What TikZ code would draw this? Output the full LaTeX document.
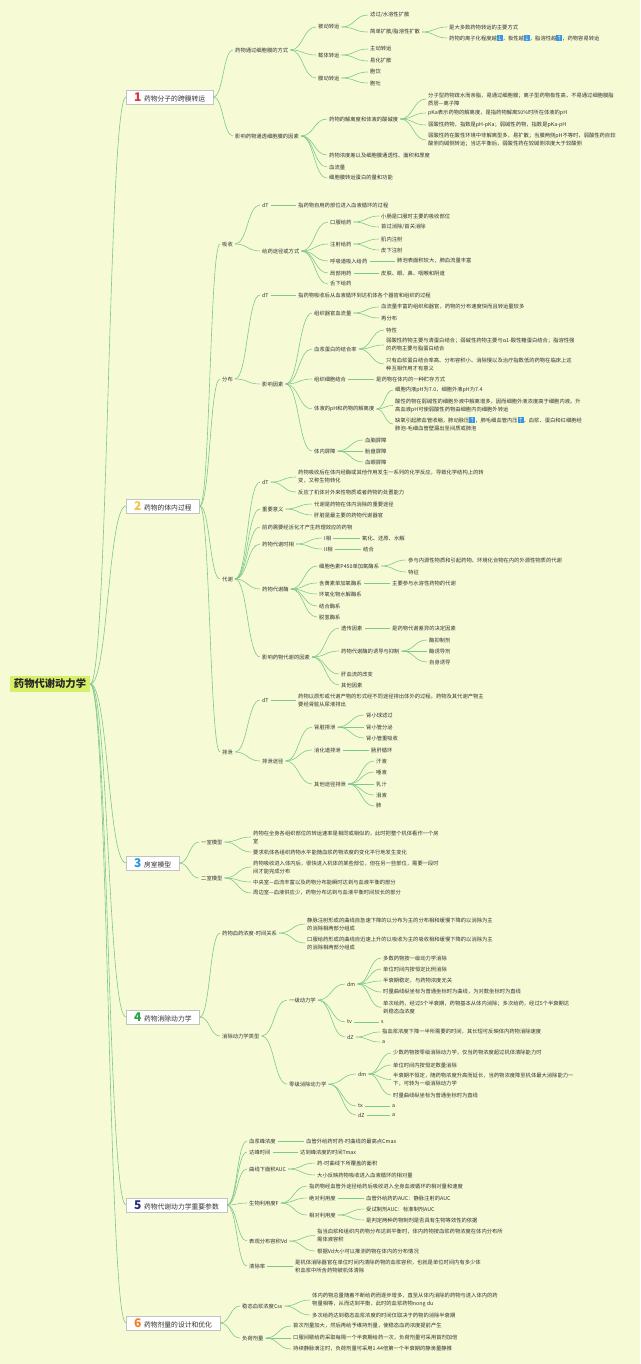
\documentclass[tikz,border=0pt]{standalone}
\usepackage{fontspec}
\setmainfont{Noto Sans CJK SC}
\usetikzlibrary{calc}
\definecolor{bg}{RGB}{246,251,214}
\definecolor{lnc}{RGB}{125,200,140}
\definecolor{txt}{RGB}{50,50,50}
\definecolor{boxb}{RGB}{195,195,195}
\definecolor{rootc}{RGB}{215,240,105}
\definecolor{icb}{RGB}{60,150,230}
\definecolor{n1}{RGB}{225,50,60}
\definecolor{n2}{RGB}{245,195,60}
\definecolor{n3}{RGB}{40,150,225}
\definecolor{n4}{RGB}{40,165,70}
\definecolor{n5}{RGB}{40,45,120}
\definecolor{n6}{RGB}{240,125,45}
\newcommand\icup{{\setlength\fboxsep{0.3pt}\colorbox{icb}{\textcolor{white}{↑}}}}
\newcommand\icdn{{\setlength\fboxsep{0.3pt}\colorbox{icb}{\textcolor{white}{↓}}}}
\newcommand\lk[2]{\draw[cn] let \p1=(#1.east), \p2=(#2.west) in (\p1) .. controls ({(\x1+\x2)/2},\y1) and ({(\x1+\x2)/2},\y2) .. (\p2);}
\newcommand\bnum[2]{{\fontsize{12}{12}\selectfont\bfseries\color{#1}#2}\hspace{2.5pt}}
\begin{document}
\begin{tikzpicture}[x=1pt,y=-1pt,
  t/.style={anchor=west, xshift=-2pt, inner xsep=2pt, inner ysep=1pt, font=\fontsize{5.3}{8}\selectfont, text=txt, align=left},
  mbox/.style={draw=boxb, fill=white, line width=0.4pt, anchor=west, inner xsep=8pt, inner ysep=1.5pt, minimum height=14pt, font=\fontsize{6.8}{8}\selectfont, text=txt},
  cn/.style={draw=lnc, line width=0.6pt}]
\useasboundingbox (0,0) rectangle (640,1364);
\fill[bg] (0,0) rectangle (640,1364);

% root and main branches
\node[fill=rootc, inner xsep=4pt, inner ysep=3pt, font=\fontsize{10.3}{12}\selectfont\bfseries, text=black!85] (R) at (50,684) {药物代谢动力学};
\node[mbox] (B1) at (126,97) {\bnum{n1}{1}药物分子的跨膜转运};
\node[mbox] (B2) at (126,506) {\bnum{n2}{2}药物的体内过程};
\node[mbox] (B3) at (126,863) {\bnum{n3}{3}房室模型};
\node[mbox] (B4) at (126,1017) {\bnum{n4}{4}药物消除动力学};
\node[mbox] (B5) at (126,1205) {\bnum{n5}{5}药物代谢动力学重要参数};
\node[mbox] (B6) at (126,1323) {\bnum{n6}{6}药物剂量的设计和优化};
\foreach \b in {B1,B2,B3,B4,B5,B6}{\lk{R}{\b}}

% ===== Section 1
\node[t] (a1) at (235,50) {药物通过细胞膜的方式};
\node[t] (a11) at (318,27) {被动转运};
\node[t] (a111) at (370,15) {滤过/水溶性扩散};
\node[t] (a112) at (370,32) {简单扩散/脂溶性扩散};
\node[t] (a1121) at (449,27) {是大多数药物转运的主要方式};
\node[t] (a1122) at (449,38) {药物的离子化程度越\icdn，极性越\icdn，脂溶性越\icup，药物容易转运};
\node[t] (a12) at (318,55) {载体转运};
\node[t] (a121) at (370,49) {主动转运};
\node[t] (a122) at (370,61) {易化扩散};
\node[t] (a13) at (318,78) {膜动转运};
\node[t] (a131) at (370,72) {胞饮};
\node[t] (a132) at (370,83) {胞吐};
\node[t] (a2) at (235,136) {影响药物通透细胞膜的因素};
\node[t] (a21) at (329,119) {药物的解离度和体液的酸碱度};
\node[t] (a211) at (428,99) {分子型药物疏水而亲脂，易通过细胞膜；离子型药物极性高，不易通过细胞膜脂\\质层—离子障};
\node[t] (a212) at (428,113) {pKa表示药物的解离度，是指药物解离50\%时所在体液的pH};
\node[t] (a213) at (428,125) {弱酸性药物，指数是pH-pKa；弱碱性药物，指数是pKa-pH};
\node[t] (a214) at (428,140) {弱酸性药在酸性环境中非解离型多，易扩散；当膜两侧pH不等时，弱酸性药自较\\酸侧向碱侧转运；当达平衡后，弱酸性药在较碱侧浓度大于较酸侧};
\node[t] (a22) at (329,155) {药物浓度差以及细胞膜通透性、面积和厚度};
\node[t] (a23) at (329,167) {血流量};
\node[t] (a24) at (329,178) {细胞膜转运蛋白的量和功能};
\lk{B1}{a1}\lk{B1}{a2}
\lk{a1}{a11}\lk{a1}{a12}\lk{a1}{a13}
\lk{a11}{a111}\lk{a11}{a112}\lk{a112}{a1121}\lk{a112}{a1122}
\lk{a12}{a121}\lk{a12}{a122}\lk{a13}{a131}\lk{a13}{a132}
\lk{a2}{a21}\lk{a2}{a22}\lk{a2}{a23}\lk{a2}{a24}
\lk{a21}{a211}\lk{a21}{a212}\lk{a21}{a213}\lk{a21}{a214}

% ===== Section 2
\node[t] (b1) at (222,244) {吸收};
\node[t] (b11) at (262,205) {dT};
\node[t] (b111) at (298,205) {指药物自用药部位进入血液循环的过程};
\node[t] (b12) at (262,251) {给药途径或方式};
\node[t] (b121) at (330,222) {口服给药};
\node[t] (b1211) at (381,216) {小肠是口服时主要的吸收部位};
\node[t] (b1212) at (381,227) {首过消除/首关消除};
\node[t] (b122) at (330,244) {注射给药};
\node[t] (b1221) at (381,239) {肌内注射};
\node[t] (b1222) at (381,250) {皮下注射};
\node[t] (b123) at (330,261) {呼吸道吸入给药};
\node[t] (b1231) at (397,261) {肺泡表面积较大，肺血流量丰富};
\node[t] (b124) at (330,273) {局部用药};
\node[t] (b1241) at (381,273) {皮肤、眼、鼻、咽喉和阴道};
\node[t] (b125) at (330,284) {舌下给药};
\lk{B2}{b1}\lk{b1}{b11}\lk{b11}{b111}\lk{b1}{b12}
\lk{b12}{b121}\lk{b12}{b122}\lk{b12}{b123}\lk{b12}{b124}\lk{b12}{b125}
\lk{b121}{b1211}\lk{b121}{b1212}\lk{b122}{b1221}\lk{b122}{b1222}
\lk{b123}{b1231}\lk{b124}{b1241}

\node[t] (b2) at (222,379) {分布};
\node[t] (b21) at (262,295) {dT};
\node[t] (b211) at (298,295) {指药物吸收后从血液循环到达机体各个器官和组织的过程};
\node[t] (b22) at (262,384) {影响因素};
\node[t] (b221) at (314,313) {组织器官血流量};
\node[t] (b2211) at (381,307) {血流量丰富的组织和器官，药物的分布速度快而且转运量较多};
\node[t] (b2212) at (381,318) {再分布};
\node[t] (b222) at (314,349) {血浆蛋白的结合率};
\node[t] (b2221) at (386,330) {特性};
\node[t] (b2222) at (386,345) {弱酸性药物主要与清蛋白结合；弱碱性药物主要与α1-酸性糖蛋白结合；脂溶性强\\的药物主要与脂蛋白结合};
\node[t] (b2223) at (386,364) {只有血浆蛋白结合率高、分布容积小、消除慢以及治疗指数低的药物在临床上这\\种互相作用才有意义};
\node[t] (b223) at (314,379) {组织细胞结合};
\node[t] (b2231) at (376,379) {是药物在体内的一种贮存方式};
\node[t] (b224) at (314,409) {体液的pH和药物的解离度};
\node[t] (b2241) at (395,390) {细胞内液pH为7.0，细胞外液pH为7.4};
\node[t] (b2242) at (395,405.5) {酸性药物在弱碱性的细胞外液中解离增多，因而细胞外液浓度高于细胞内液。升\\高血液pH可使弱酸性药物由细胞内向细胞外转运};
\node[t] (b2243) at (395,424) {缺氧引起肺血管收缩，肺动脉压\icup，肺毛细血管内压\icup，血浆、蛋白和红细胞经\\肺泡-毛细血管壁漏出至间质或肺泡};
\node[t] (b225) at (314,451) {体内屏障};
\node[t] (b2251) at (365,440) {血脑屏障};
\node[t] (b2252) at (365,451) {胎盘屏障};
\node[t] (b2253) at (365,462) {血眼屏障};
\lk{B2}{b2}\lk{b2}{b21}\lk{b21}{b211}\lk{b2}{b22}
\lk{b22}{b221}\lk{b22}{b222}\lk{b22}{b223}\lk{b22}{b224}\lk{b22}{b225}
\lk{b221}{b2211}\lk{b221}{b2212}
\lk{b222}{b2221}\lk{b222}{b2222}\lk{b222}{b2223}
\lk{b223}{b2231}
\lk{b224}{b2241}\lk{b224}{b2242}\lk{b224}{b2243}
\lk{b225}{b2251}\lk{b225}{b2252}\lk{b225}{b2253}

\node[t] (b3) at (222,579) {代谢};
\node[t] (b31) at (262,482) {dT};
\node[t] (b311) at (298,477) {药物吸收后在体内经酶或其他作用发生一系列的化学反应，导致化学结构上的转\\变，又称生物转化};
\node[t] (b312) at (298,492) {反应了机体对外来性物质或者药物的处置能力};
\node[t] (b32) at (262,509) {重要意义};
\node[t] (b321) at (314,504) {代谢是药物在体内消除的重要途径};
\node[t] (b322) at (314,515) {肝脏是最主要的药物代谢器官};
\node[t] (b33) at (262,527) {前药需要经活化才产生药理效应的药物};
\node[t] (b34) at (262,544) {药物代谢时相};
\node[t] (b341) at (324,538) {I相};
\node[t] (b3411) at (362,538) {氧化、还原、水解};
\node[t] (b342) at (324,549) {II相};
\node[t] (b3421) at (363,549) {结合};
\node[t] (b35) at (262,589) {药物代谢酶};
\node[t] (b351) at (319,566) {细胞色素P450单加氧酶系};
\node[t] (b3511) at (408,560) {参与内源性物质和引起药物、环境化合物在内的外源性物质的代谢};
\node[t] (b3512) at (408,572) {特征};
\node[t] (b352) at (319,583) {含黄素单加氧酶系};
\node[t] (b3521) at (392,583) {主要参与水溶性药物的代谢};
\node[t] (b353) at (319,594) {环氧化物水解酶系};
\node[t] (b354) at (319,606) {结合酶系};
\node[t] (b355) at (319,617) {脱氢酶系};
\node[t] (b36) at (262,657) {影响药物代谢的因素};
\node[t] (b361) at (341,628) {遗传因素};
\node[t] (b3611) at (392,628) {是药物代谢差异的决定因素};
\node[t] (b362) at (341,651) {药物代谢酶的诱导与抑制};
\node[t] (b3621) at (429,640) {酶抑制剂};
\node[t] (b3622) at (429,651) {酶诱导剂};
\node[t] (b3623) at (429,662) {自身诱导};
\node[t] (b363) at (341,674) {肝血流的改变};
\node[t] (b364) at (341,685) {其他因素};
\lk{B2}{b3}
\lk{b3}{b31}\lk{b3}{b32}\lk{b3}{b33}\lk{b3}{b34}\lk{b3}{b35}\lk{b3}{b36}
\lk{b31}{b311}\lk{b31}{b312}\lk{b32}{b321}\lk{b32}{b322}
\lk{b34}{b341}\lk{b34}{b342}\lk{b341}{b3411}\lk{b342}{b3421}
\lk{b35}{b351}\lk{b35}{b352}\lk{b35}{b353}\lk{b35}{b354}\lk{b35}{b355}
\lk{b351}{b3511}\lk{b351}{b3512}\lk{b352}{b3521}
\lk{b36}{b361}\lk{b36}{b362}\lk{b36}{b363}\lk{b36}{b364}
\lk{b361}{b3611}\lk{b362}{b3621}\lk{b362}{b3622}\lk{b362}{b3623}

\node[t] (b4) at (222,752) {排泄};
\node[t] (b41) at (262,700) {dT};
\node[t] (b411) at (298,700) {药物以原形或代谢产物的形式经不同途径排出体外的过程。药物及其代谢产物主\\要经肾脏从尿液排出};
\node[t] (b42) at (262,761) {排泄途径};
\node[t] (b421) at (314,727) {肾脏排泄};
\node[t] (b4211) at (366,715) {肾小球滤过};
\node[t] (b4212) at (366,727) {肾小管分泌};
\node[t] (b4213) at (366,738) {肾小管重吸收};
\node[t] (b422) at (314,750) {消化道排泄};
\node[t] (b4221) at (371,750) {肠肝循环};
\node[t] (b423) at (314,784) {其他途径排泄};
\node[t] (b4231) at (376,761) {汗液};
\node[t] (b4232) at (376,772) {唾液};
\node[t] (b4233) at (376,784) {乳汁};
\node[t] (b4234) at (376,795) {泪液};
\node[t] (b4235) at (376,806) {肺};
\lk{B2}{b4}\lk{b4}{b41}\lk{b41}{b411}\lk{b4}{b42}
\lk{b42}{b421}\lk{b42}{b422}\lk{b42}{b423}
\lk{b421}{b4211}\lk{b421}{b4212}\lk{b421}{b4213}\lk{b422}{b4221}
\lk{b423}{b4231}\lk{b423}{b4232}\lk{b423}{b4233}\lk{b423}{b4234}\lk{b423}{b4235}

% ===== Section 3
\node[t] (c1) at (201,842) {一室模型};
\node[t] (c11) at (253,837) {药物在全身各组织部位的转运速率是相同或相似的，此时把整个机体看作一个房\\室};
\node[t] (c12) at (253,852) {要求机体各组织药物水平能随血浆药物浓度的变化平行地发生变化};
\node[t] (c2) at (201,878) {二室模型};
\node[t] (c21) at (253,867) {药物吸收进入体内后，很快进入机体的某些部位，但在另一些部位，需要一段时\\间才能完成分布};
\node[t] (c22) at (253,882) {中央室—血流丰富以及药物分布能瞬时达到与血液平衡的部分};
\node[t] (c23) at (253,893) {周边室—血液供应少，药物分布达到与血液平衡时间较长的部分};
\lk{B3}{c1}\lk{B3}{c2}\lk{c1}{c11}\lk{c1}{c12}\lk{c2}{c21}\lk{c2}{c22}\lk{c2}{c23}

% ===== Section 4
\node[t] (d1) at (222,933) {药物血药浓度-时间关系};
\node[t] (d11) at (307,924) {静脉注射形成的曲线自急速下降的以分布为主的分布相和缓慢下降的以消除为主\\的消除相两部分组成};
\node[t] (d12) at (307,943) {口服给药形成的曲线自迅速上升的以吸收为主的吸收相和缓慢下降的以消除为主\\的消除相两部分组成};
\node[t] (d2) at (222,1036) {消除动力学类型};
\node[t] (d21) at (289,1000) {一级动力学};
\node[t] (d211) at (347,984) {dm};
\node[t] (d2111) at (383,958) {多数药物按一级动力学消除};
\node[t] (d2112) at (383,969) {单位时间内按恒定比例消除};
\node[t] (d2113) at (383,981) {半衰期稳定，与药物浓度无关};
\node[t] (d2114) at (383,992) {时量曲线纵坐标为普通坐标时为曲线，为对数坐标时为直线};
\node[t] (d2115) at (383,1007.5) {单次给药，经过5个半衰期，药物基本从体内消除；多次给药，经过5个半衰期达\\到稳态血浓度};
\node[t] (d212) at (347,1022) {tv};
\node[t] (d2121) at (381,1022) {s};
\node[t] (d213) at (347,1037) {dZ};
\node[t] (d2131) at (382,1032) {指血浆浓度下降一半所需要的时间，其长短可反映体内药物消除速度};
\node[t] (d2132) at (382,1042) {a};
\node[t] (d22) at (289,1084) {零级消除动力学};
\node[t] (d221) at (358,1074) {dm};
\node[t] (d2211) at (393,1053) {少数药物按零级消除动力学，仅当药物浓度超过机体清除能力时};
\node[t] (d2212) at (393,1065) {单位时间内按恒定数量消除};
\node[t] (d2213) at (393,1079.5) {半衰期不恒定，随药物浓度升高而延长，当药物浓度降至机体最大消除能力一\\下，可转为一级消除动力学};
\node[t] (d2214) at (393,1095) {时量曲线纵坐标为普通坐标时为直线};
\node[t] (d222) at (358,1106) {tx};
\node[t] (d2221) at (392,1106) {a};
\node[t] (d223) at (358,1115) {dZ};
\node[t] (d2231) at (392,1115) {a};
\lk{B4}{d1}\lk{B4}{d2}\lk{d1}{d11}\lk{d1}{d12}
\lk{d2}{d21}\lk{d2}{d22}
\lk{d21}{d211}\lk{d21}{d212}\lk{d21}{d213}
\lk{d211}{d2111}\lk{d211}{d2112}\lk{d211}{d2113}\lk{d211}{d2114}\lk{d211}{d2115}
\lk{d212}{d2121}\lk{d213}{d2131}\lk{d213}{d2132}
\lk{d22}{d221}\lk{d22}{d222}\lk{d22}{d223}
\lk{d221}{d2211}\lk{d221}{d2212}\lk{d221}{d2213}\lk{d221}{d2214}
\lk{d222}{d2221}\lk{d223}{d2231}

% ===== Section 5
\node[t] (e1) at (249,1141) {血浆峰浓度};
\node[t] (e11) at (306,1141) {血管外给药时药-时曲线的最高点Cmax};
\node[t] (e2) at (249,1152) {达峰时间};
\node[t] (e21) at (300,1152) {达到峰浓度的时间Tmax};
\node[t] (e3) at (249,1169) {曲线下面积AUC};
\node[t] (e31) at (317,1163) {药-时曲线下所覆盖的面积};
\node[t] (e32) at (317,1175) {大小反映药物吸收进入血液循环的相对量};
\node[t] (e4) at (249,1203) {生物利用度F};
\node[t] (e41) at (309,1186) {指药物经血管外途径给药后吸收进入全身血液循环的相对量和速度};
\node[t] (e42) at (309,1198) {绝对利用度};
\node[t] (e421) at (366,1198) {血管外给药的AUC：静脉注射的AUC};
\node[t] (e43) at (309,1215) {相对利用度};
\node[t] (e431) at (366,1209) {受试制剂AUC：标准制剂AUC};
\node[t] (e432) at (366,1220) {是判定两种药物制剂是否具有生物等效性的依据};
\node[t] (e5) at (249,1241) {表观分布容积Vd};
\node[t] (e51) at (317,1235.5) {指当血浆和组织内药物分布达到平衡时，体内药物按血浆药物浓度在体内分布所\\需体液容积};
\node[t] (e52) at (317,1251) {根据Vd大小可以推测药物在体内的分布情况};
\node[t] (e6) at (249,1266) {清除率};
\node[t] (e61) at (295,1266) {是机体消除器官在单位时间内清除药物的血浆容积，也就是单位时间内有多少体\\积血浆中所含药物被机体清除};
\lk{B5}{e1}\lk{B5}{e2}\lk{B5}{e3}\lk{B5}{e4}\lk{B5}{e5}\lk{B5}{e6}
\lk{e1}{e11}\lk{e2}{e21}\lk{e3}{e31}\lk{e3}{e32}
\lk{e4}{e41}\lk{e4}{e42}\lk{e4}{e43}\lk{e42}{e421}\lk{e43}{e431}\lk{e43}{e432}
\lk{e5}{e51}\lk{e5}{e52}\lk{e6}{e61}

% ===== Section 6
\node[t] (f1) at (242,1306) {稳态血浆浓度Css};
\node[t] (f11) at (312,1300) {体内药物总量随着不断给药而逐步增多，直至从体内消除的药物与进入体内的药\\物量相等，从而达到平衡，此时的血浆药物nong du};
\node[t] (f12) at (312,1315) {多次给药达到稳态血浆浓度的时间仅取决于药物的消除半衰期};
\node[t] (f2) at (242,1338) {负荷剂量};
\node[t] (f21) at (293,1326) {首次剂量加大，然后再给予维持剂量，使稳态血药浓度提前产生};
\node[t] (f22) at (293,1338) {口服间歇给药采取每隔一个半衰期给药一次，负荷剂量可采用首剂加倍};
\node[t] (f23) at (293,1349) {持续静脉滴注时，负荷剂量可采用1.44倍第一个半衰期的静滴量静推};
\lk{B6}{f1}\lk{B6}{f2}\lk{f1}{f11}\lk{f1}{f12}\lk{f2}{f21}\lk{f2}{f22}\lk{f2}{f23}
\end{tikzpicture}
\end{document}
